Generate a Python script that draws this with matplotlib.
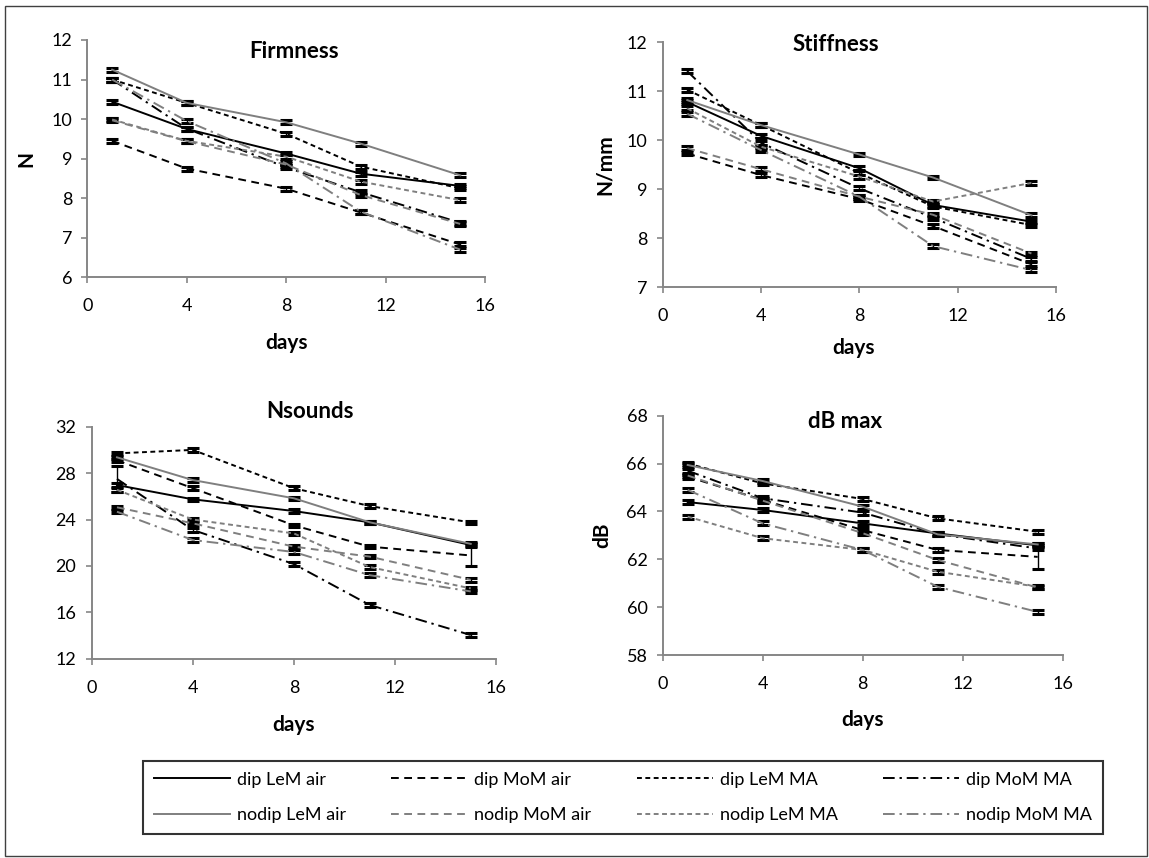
"""
四个指标随贮藏天数的变化 (Firmness / Stiffness / Nsounds / dB max)
"""
import matplotlib
matplotlib.use('Agg')
import matplotlib.pyplot as plt
from matplotlib.patches import Rectangle

plt.rcParams['font.family'] = ['Lato', 'DejaVu Sans']

# 数据
days = [1, 4, 8, 11, 15]
series_names = ['dip LeM air', 'dip MoM air', 'dip LeM MA', 'dip MoM MA',
                'nodip LeM air', 'nodip MoM air', 'nodip LeM MA', 'nodip MoM MA']

firmness = [
    [10.44, 9.75, 9.13, 8.62, 8.31],
    [9.45, 8.75, 8.24, 7.64, 6.83],
    [11.00, 10.41, 9.63, 8.80, 8.25],
    [11.00, 9.76, 8.78, 8.15, 7.38],
    [11.25, 10.41, 9.92, 9.38, 8.58],
    [9.97, 9.44, 8.85, 8.08, 7.35],
    [9.99, 9.45, 9.05, 8.42, 7.95],
    [11.00, 9.95, 8.88, 7.66, 6.70],
]
stiffness = [
    [10.78, 10.09, 9.43, 8.68, 8.34],
    [9.73, 9.29, 8.80, 8.25, 7.47],
    [11.03, 10.31, 9.33, 8.65, 8.27],
    [11.41, 9.95, 9.02, 8.42, 7.58],
    [10.82, 10.31, 9.71, 9.24, 8.47],
    [9.84, 9.41, 8.85, 8.48, 7.69],
    [10.65, 9.87, 9.26, 8.75, 9.13],
    [10.54, 9.80, 8.85, 7.84, 7.35],
]
nsounds = [
    [26.97, 25.74, 24.73, 23.76, 21.80],
    [29.10, 26.70, 23.50, 21.66, 20.90],
    [29.70, 30.00, 26.70, 25.16, 23.75],
    [27.50, 23.10, 20.16, 16.63, 14.04],
    [29.36, 27.40, 25.83, 23.76, 21.90],
    [25.05, 23.67, 21.66, 20.80, 18.80],
    [26.56, 24.00, 22.80, 19.90, 18.06],
    [24.67, 22.23, 21.20, 19.20, 17.80],
]
db_max = [
    [64.39, 64.06, 63.50, 63.08, 62.58],
    [65.45, 64.48, 63.22, 62.39, 62.10],
    [66.00, 65.17, 64.52, 63.71, 63.15],
    [65.70, 64.55, 63.95, 63.05, 62.45],
    [65.94, 65.27, 64.20, 63.04, 62.62],
    [65.50, 64.45, 63.09, 61.97, 60.82],
    [63.78, 62.88, 62.39, 61.48, 60.85],
    [64.90, 63.50, 62.39, 60.85, 59.80],
]

# 误差 (大部分很小, 个别点较大: (系列序号, 天序号, 误差))
firmness_err = 0.05
stiffness_err = 0.04
nsounds_err = 0.15
db_err = 0.08
nsounds_err_extra = [(3, 0, 1.1), (1, 4, 0.95)]
db_err_extra = [(1, 4, 0.5)]

BLACK = 'black'
GRAY = '#7f7f7f'
line_styles = ['-', (0, (4, 2.8)), (0, (2.5, 1.8)), (0, (6, 2.5, 1.2, 2.5))]
colors = [BLACK] * 4 + [GRAY] * 4
styles = line_styles * 2

W, H = 1149, 858
fig = plt.figure(figsize=(W / 100, H / 100), dpi=100)

# 外边框
fig.patches.append(Rectangle((5 / W, 2 / H), 1 - 7 / W, 1 - 8 / H, transform=fig.transFigure,
                             fill=False, edgecolor='#404040', linewidth=1))

panels = [
    # 数据, ylim, yticks, 标题, y轴标签, 像素框(left, top, right, bottom), 标题位置, ylabel x, xlabel 位置, 误差, 额外误差
    (firmness, (6, 12), range(6, 13, 1), 'Firmness', 'N', (87.3, 40, 485, 277.3),
     (0.52, 0.95), -0.152, (0.50, -0.278), firmness_err, []),
    (stiffness, (7, 12), range(7, 13, 1), 'Stiffness', 'N/mm', (662.7, 42.3, 1056, 287.3),
     (0.44, 0.99), -0.147, (0.485, -0.249), stiffness_err, []),
    (nsounds, (12, 32), range(12, 33, 4), 'Nsounds', '', (91.7, 426.7, 496, 658.7),
     (0.54, 1.065), -0.15, (0.498, -0.286), nsounds_err, nsounds_err_extra),
    (db_max, (58, 68), range(58, 69, 2), 'dB max', 'dB', (662.7, 415.7, 1062.7, 655),
     (0.456, 0.975), -0.152, (0.50, -0.272), db_err, db_err_extra),
]

handles = []
for data, ylim, yticks, title, ylabel, box, tpos, ylx, xlpos, err, extra in panels:
    l, t, r, b = box
    ax = fig.add_axes([l / W, 1 - b / H, (r - l) / W, (b - t) / H])
    lines = []
    for i in range(len(series_names)):
        errs = [err] * len(days)
        for si, di, e in extra:
            if si == i:
                errs[di] = e
        ax.errorbar(days, data[i], yerr=errs, fmt='none', ecolor='black',
                    elinewidth=1, capsize=4, capthick=2.2, zorder=2)
        ln, = ax.plot(days, data[i], color=colors[i], linestyle=styles[i],
                      linewidth=1.4, label=series_names[i], zorder=3)
        lines.append(ln)
    if not handles:
        handles = lines

    ax.set_xlim(0, 16)
    ax.set_xticks([0, 4, 8, 12, 16])
    ax.set_ylim(*ylim)
    ax.set_yticks(list(yticks))
    for side in ['top', 'right']:
        ax.spines[side].set_visible(False)
    for side in ['left', 'bottom']:
        ax.spines[side].set_color('#868686')
        ax.spines[side].set_linewidth(1.4)
    ax.tick_params(axis='both', colors='#868686', labelcolor='black', labelsize=13,
                   direction='out', length=4, width=1.2)
    ax.tick_params(axis='x', pad=11)
    ax.tick_params(axis='y', pad=7)

    ax.text(tpos[0], tpos[1], title, transform=ax.transAxes, ha='center', va='center',
            fontsize=16, fontweight='bold')
    ax.text(xlpos[0], xlpos[1], 'days', transform=ax.transAxes, ha='center', va='center',
            fontsize=15, fontweight='bold')
    if ylabel:
        ax.text(ylx, 0.5, ylabel, transform=ax.transAxes, ha='center', va='center',
                rotation=90, fontsize=15, fontweight='bold')

# 图例 (按行排列)
order = [0, 4, 1, 5, 2, 6, 3, 7]
leg = fig.legend([handles[k] for k in order], [series_names[k] for k in order],
                 loc='center', bbox_to_anchor=(143 / W, 1 - 836 / H, 960 / W, 77 / H),
                 mode='expand', ncol=4, fontsize=13, frameon=True, fancybox=False,
                 edgecolor='black', handlelength=4.2, handletextpad=0.4,
                 borderaxespad=0, borderpad=0.6, labelspacing=1.1)
leg.get_frame().set_linewidth(1.5)

plt.savefig('out.png', dpi=100)
plt.close()
